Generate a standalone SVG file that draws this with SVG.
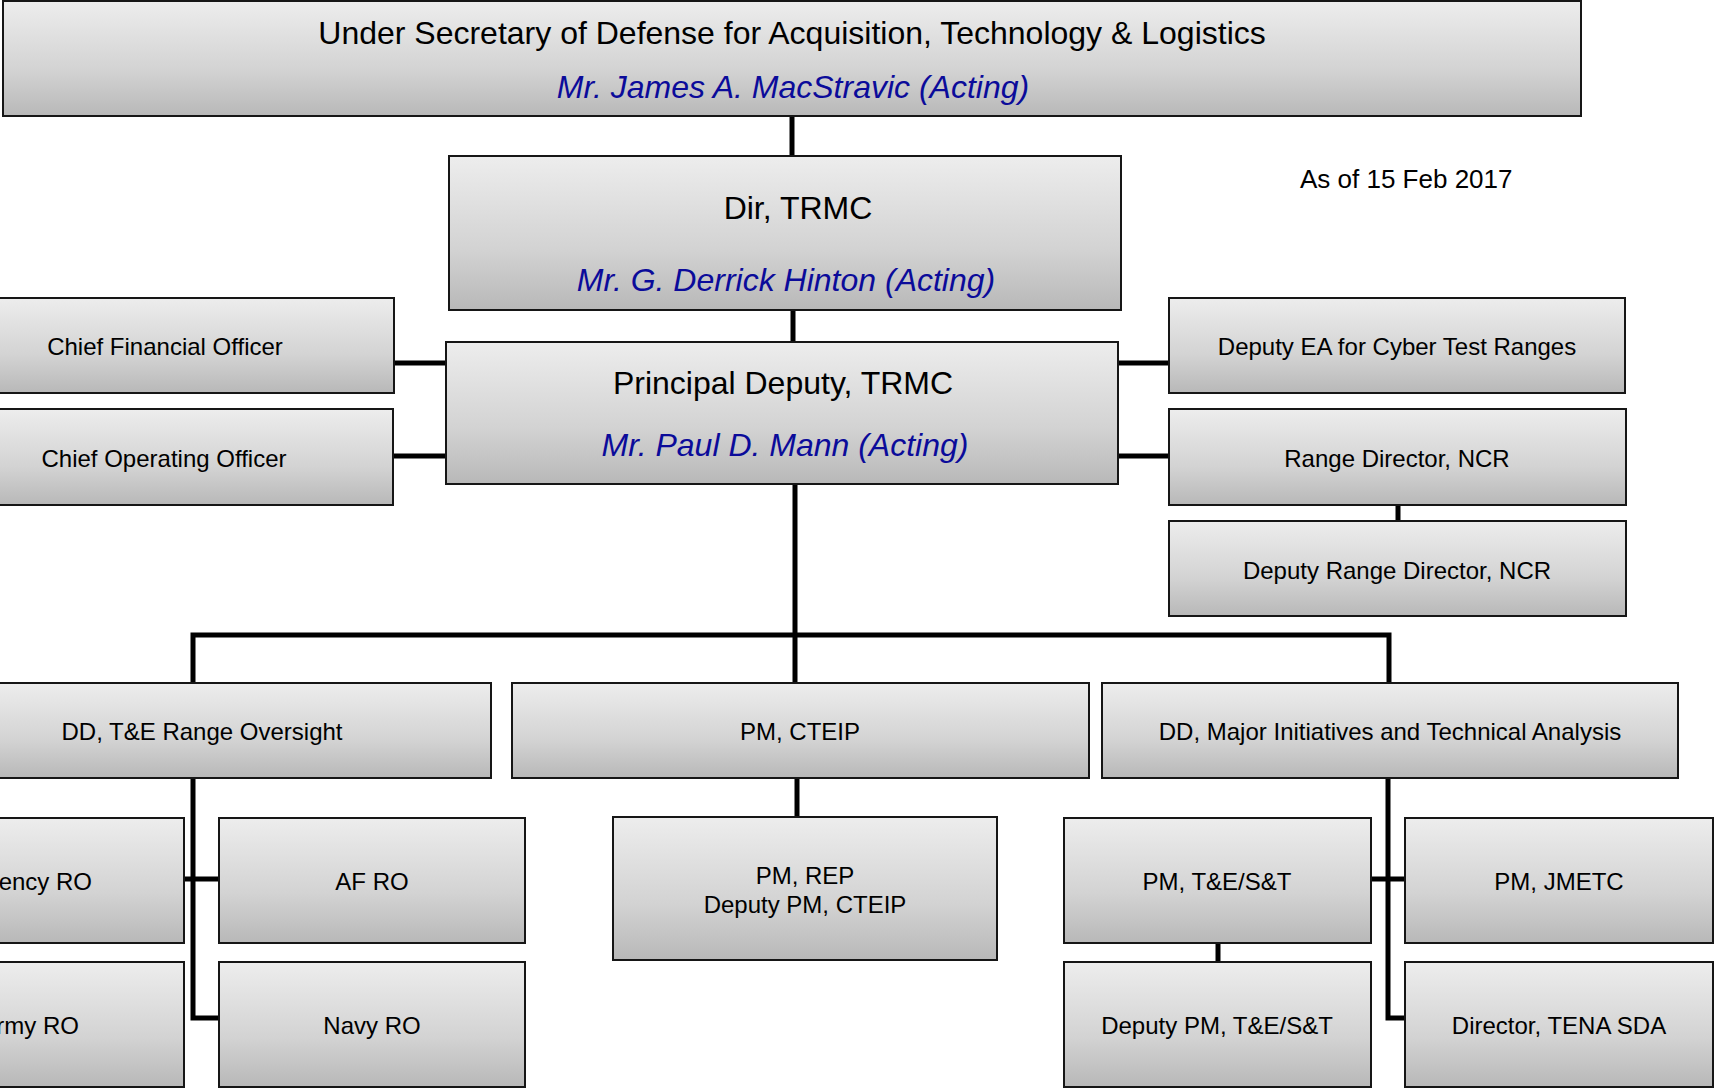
<svg xmlns="http://www.w3.org/2000/svg" width="1716" height="1088" viewBox="0 0 1716 1088">
<defs>
<linearGradient id="g" x1="0" y1="0" x2="0" y2="1">
<stop offset="0" stop-color="#ededed"/>
<stop offset="0.6" stop-color="#d3d3d3"/>
<stop offset="1" stop-color="#b8b8b8"/>
</linearGradient>
<style>
.b{fill:url(#g);stroke:#161616;stroke-width:2}
.t{font-family:"Liberation Sans",Arial,sans-serif;font-size:24px;fill:#000;text-anchor:middle}
.h{font-family:"Liberation Sans",Arial,sans-serif;font-size:32px;fill:#000;text-anchor:middle}
.n{font-family:"Liberation Sans",Arial,sans-serif;font-size:32px;font-style:italic;fill:#0b0b9a;text-anchor:middle}
.c{fill:none;stroke:#000;stroke-width:5}
</style>
</defs>
<rect width="1716" height="1088" fill="#fff"/>
<g id="connectors">
<path class="c" d="M792 116V156"/>
<path class="c" d="M793 310V342"/>
<path class="c" d="M394 363H446M393 456H446"/>
<path class="c" d="M1118 363H1169M1118 456H1169"/>
<path class="c" d="M1398 505V521"/>
<path class="c" d="M795 484V683"/>
<path class="c" d="M193 683V635H1389V683"/>
<path class="c" d="M797 778V817"/>
<path class="c" d="M193 778V1018H219M184 879H219"/>
<path class="c" d="M1388 778V1018H1405M1371 879H1405"/>
<path class="c" d="M1218 943V962"/>
</g>
<g id="usd">
<rect class="b" x="3" y="1" width="1578" height="115"/>
<text class="h" x="792" y="44">Under Secretary of Defense for Acquisition, Technology &amp; Logistics</text>
<text class="n" x="793" y="98">Mr. James A. MacStravic (Acting)</text>
</g>
<text id="date" x="1300" y="188" font-family="Liberation Sans, Arial, sans-serif" font-size="26" fill="#000">As of 15 Feb 2017</text>
<g id="dir">
<rect class="b" x="449" y="156" width="672" height="154"/>
<text class="h" x="798" y="219">Dir, TRMC</text>
<text class="n" x="786" y="291">Mr. G. Derrick Hinton (Acting)</text>
</g>
<g id="pd">
<rect class="b" x="446" y="342" width="672" height="142"/>
<text class="h" x="783" y="394">Principal Deputy, TRMC</text>
<text class="n" x="785" y="456">Mr. Paul D. Mann (Acting)</text>
</g>
<g id="cfo">
<rect class="b" x="-64" y="298" width="458" height="95"/>
<text class="t" x="165" y="355">Chief Financial Officer</text>
</g>
<g id="coo">
<rect class="b" x="-64" y="409" width="457" height="96"/>
<text class="t" x="164" y="467">Chief Operating Officer</text>
</g>
<g id="deputy-ea">
<rect class="b" x="1169" y="298" width="456" height="95"/>
<text class="t" x="1397" y="355">Deputy EA for Cyber Test Ranges</text>
</g>
<g id="range-director">
<rect class="b" x="1169" y="409" width="457" height="96"/>
<text class="t" x="1397" y="467">Range Director, NCR</text>
</g>
<g id="deputy-range-director">
<rect class="b" x="1169" y="521" width="457" height="95"/>
<text class="t" x="1397" y="579">Deputy Range Director, NCR</text>
</g>
<g id="dd-te">
<rect class="b" x="-87" y="683" width="578" height="95"/>
<text class="t" x="202" y="740">DD, T&amp;E Range Oversight</text>
</g>
<g id="pm-cteip">
<rect class="b" x="512" y="683" width="577" height="95"/>
<text class="t" x="800" y="740">PM, CTEIP</text>
</g>
<g id="dd-major">
<rect class="b" x="1102" y="683" width="576" height="95"/>
<text class="t" x="1390" y="740">DD, Major Initiatives and Technical Analysis</text>
</g>
<g id="agency-ro">
<rect class="b" x="-120" y="818" width="304" height="125"/>
<text class="t" x="92" y="890" style="text-anchor:end">ency RO</text>
</g>
<g id="af-ro">
<rect class="b" x="219" y="818" width="306" height="125"/>
<text class="t" x="372" y="890">AF RO</text>
</g>
<g id="army-ro">
<rect class="b" x="-120" y="962" width="304" height="125"/>
<text class="t" x="79" y="1034" style="text-anchor:end">rmy RO</text>
</g>
<g id="navy-ro">
<rect class="b" x="219" y="962" width="306" height="125"/>
<text class="t" x="372" y="1034">Navy RO</text>
</g>
<g id="pm-rep">
<rect class="b" x="613" y="817" width="384" height="143"/>
<text class="t" x="805" y="884">PM, REP</text>
<text class="t" x="805" y="913">Deputy PM, CTEIP</text>
</g>
<g id="pm-tes">
<rect class="b" x="1064" y="818" width="307" height="125"/>
<text class="t" x="1217" y="890">PM, T&amp;E/S&amp;T</text>
</g>
<g id="pm-jmetc">
<rect class="b" x="1405" y="818" width="308" height="125"/>
<text class="t" x="1559" y="890">PM, JMETC</text>
</g>
<g id="deputy-pm-tes">
<rect class="b" x="1064" y="962" width="307" height="125"/>
<text class="t" x="1217" y="1034">Deputy PM, T&amp;E/S&amp;T</text>
</g>
<g id="tena">
<rect class="b" x="1405" y="962" width="308" height="125"/>
<text class="t" x="1559" y="1034">Director, TENA SDA</text>
</g>
</svg>
